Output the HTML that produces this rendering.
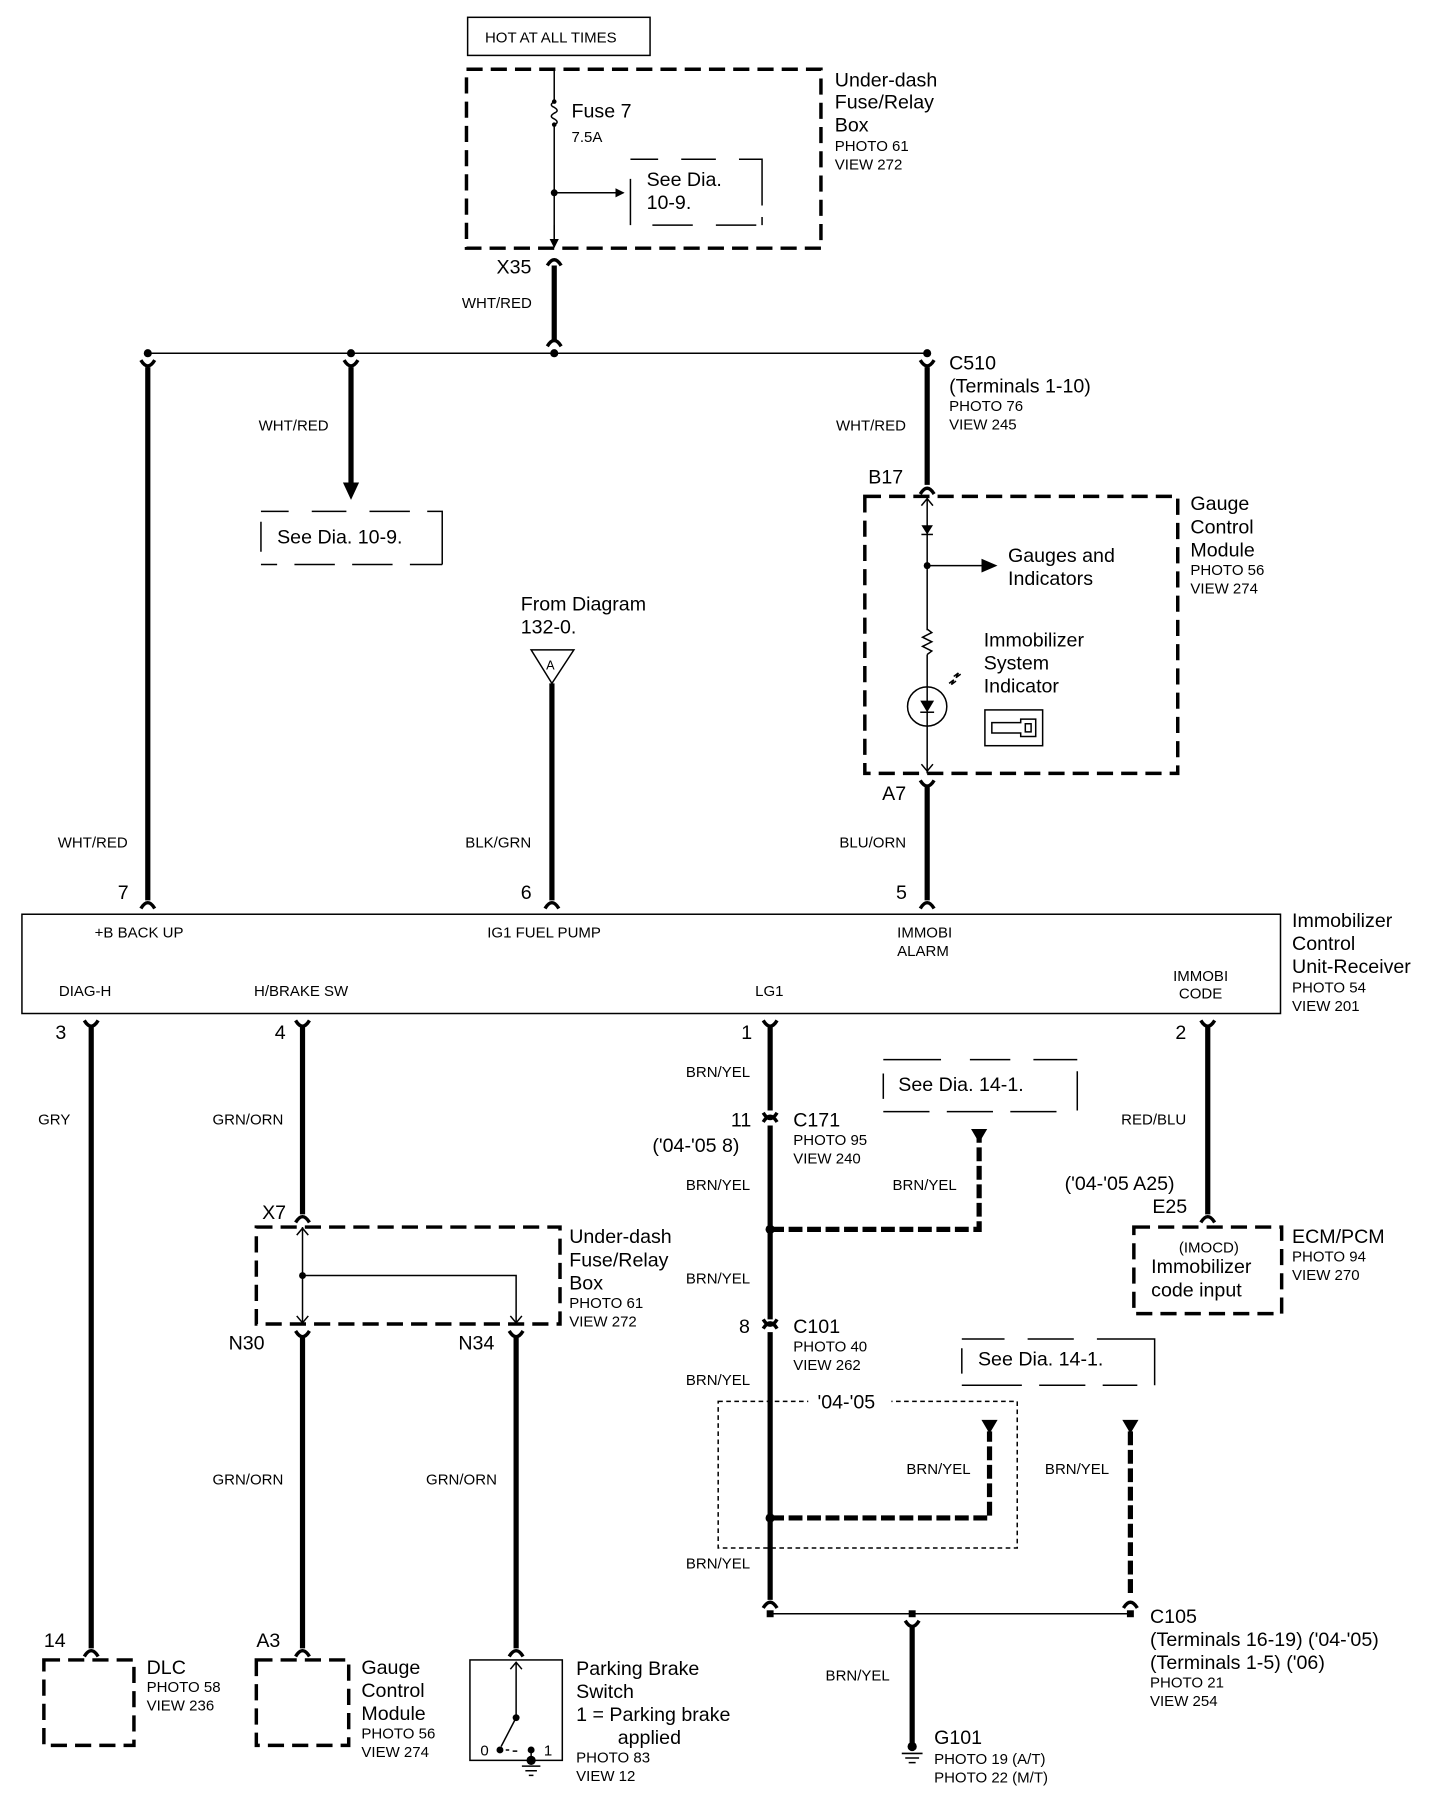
<!DOCTYPE html>
<html><head><meta charset="utf-8"><style>
html,body{margin:0;padding:0;background:#fff}
svg{display:block}
text{font-family:"Liberation Sans",Arial,sans-serif;fill:#000}
.b{font-size:17px}
.s{font-size:13px}
.w{font-size:13px}
.hw{stroke:#000;stroke-width:4.5;fill:none}
.tw{stroke:#000;stroke-width:1.3;fill:none}
.db{stroke:#000;stroke-width:3;fill:none;stroke-dasharray:14 7}
.cn{stroke:#000;stroke-width:3;fill:none}
</style></head><body>
<svg width="1456" height="1810" viewBox="0 0 1261 1568" preserveAspectRatio="none" xmlns="http://www.w3.org/2000/svg">
<defs>
<marker id="ar" markerWidth="8" markerHeight="8" refX="7" refY="4" orient="auto" markerUnits="userSpaceOnUse"><path d="M0,0 L8,4 L0,8z" fill="#000"/></marker>
<marker id="ar2" markerWidth="14" markerHeight="12" refX="12" refY="6" orient="auto" markerUnits="userSpaceOnUse"><path d="M0,0 L14,6 L0,12z" fill="#000"/></marker>
</defs>

<!-- top -->
<rect x="405" y="15" width="158" height="33" class="tw" stroke-width="2"/>
<text x="420" y="37" class="s">HOT AT ALL TIMES</text>
<rect x="404" y="60" width="307" height="155" class="db"/>
<path d="M480,60 V88 M480,108 V210" class="tw"/>
<path d="M480,88 q-5,3 0,5 q5,3 0,5 q-5,3 0,5 q5,3 0,5" class="tw"/>
<circle cx="480" cy="88" r="2"/><circle cx="480" cy="108" r="2"/>
<text x="495" y="102" class="b">Fuse 7</text>
<text x="495" y="123" class="s">7.5A</text>
<circle cx="480" cy="167" r="3"/>
<path d="M480,167 H540" class="tw" marker-end="url(#ar)"/>
<path d="M546,155 V195 M546,138 H570 M590,138 H620 M640,138 H660 V178 M660,188 V195 M565,195 H600 M620,195 H655" class="tw" stroke-width="1.5"/>
<text x="560" y="161" class="b">See Dia.</text>
<text x="560" y="181" class="b">10-9.</text>
<path d="M480,195 V214" class="tw" marker-end="url(#ar)"/>
<text x="723" y="75" class="b">Under-dash</text>
<text x="723" y="94" class="b">Fuse/Relay</text>
<text x="723" y="114" class="b">Box</text>
<text x="723" y="131" class="s">PHOTO 61</text>
<text x="723" y="147" class="s">VIEW 272</text>
<text x="430" y="237" class="b">X35</text>
<path d="M480,230 V296" class="hw"/>
<path d="M474,230 Q480,220 486,230" class="cn"/>
<path d="M474,300 Q480,290 486,300" class="cn"/>
<text x="400" y="267" class="w">WHT/RED</text>

<path d="M128,306 H803" class="tw" stroke-width="1.6"/>
<circle cx="128" cy="306" r="3.5"/><circle cx="304" cy="306" r="3.5"/><circle cx="480" cy="306" r="3.5"/><circle cx="803" cy="306" r="3.5"/>

<!-- x=128 -->
<path d="M122,312 Q128,322 134,312" class="cn"/>
<path d="M128,318 V780" class="hw"/>
<path d="M122,787 Q128,777 134,787" class="cn"/>
<text x="50" y="734" class="w">WHT/RED</text>
<text x="102" y="779" class="b">7</text>

<!-- x=304 -->
<path d="M298,312 Q304,322 310,312" class="cn"/>
<path d="M304,318 V420" class="hw"/>
<path d="M297,418 L304,433 L311,418z" fill="#000"/>
<text x="224" y="373" class="w">WHT/RED</text>
<path d="M226,443 H250 M270,443 H300 M320,443 H355 M370,443 H383 V489 M226,452 V478 M226,489 H240 M255,489 H290 M305,489 H340 M355,489 H383" class="tw" stroke-width="1.5"/>
<text x="240" y="471" class="b">See Dia. 10-9.</text>

<!-- x=803 -->
<path d="M797,312 Q803,322 809,312" class="cn"/>
<path d="M803,318 V420" class="hw"/>
<path d="M797,428 Q803,418 809,428" class="cn"/>
<text x="724" y="373" class="w">WHT/RED</text>
<text x="822" y="320" class="b">C510</text>
<text x="822" y="340" class="b">(Terminals 1-10)</text>
<text x="822" y="356" class="s">PHOTO 76</text>
<text x="822" y="372" class="s">VIEW 245</text>
<text x="752" y="419" class="b">B17</text>
<rect x="749" y="430" width="271" height="240" class="db"/>
<path d="M803,430 V670" class="tw"/>
<path d="M798,438 L803,432 L808,438" class="tw"/>
<path d="M798,455 H808 L803,463z" fill="#000"/>
<path d="M798,463 H808" class="tw"/>
<circle cx="803" cy="490" r="3"/>
<path d="M803,490 H862" class="tw" marker-end="url(#ar2)"/>
<rect x="800" y="546" width="6" height="21" fill="#fff"/>
<path d="M803,545 l4,3 l-8,4 l8,4 l-8,4 l8,4 l-4,3" class="tw"/>
<circle cx="803" cy="612" r="17" class="tw" stroke-width="3"/>
<path d="M797,607 H809 L803,617z" fill="#000"/><path d="M797,617 H809" class="tw"/>
<path d="M822,592 l4,-3 l-2,4 l4,-3 M826,586 l4,-3 l-2,4 l4,-3" class="tw"/>
<path d="M798,662 L803,668 L808,662" class="tw"/>
<rect x="853" y="615" width="50" height="31" class="tw" stroke-width="2"/>
<path d="M859,626 H884 V623 H897 V638 H884 V635 H859z M888,627 h5 v7 h-5z" class="tw"/>
<text x="873" y="487" class="b">Gauges and</text>
<text x="873" y="507" class="b">Indicators</text>
<text x="852" y="560" class="b">Immobilizer</text>
<text x="852" y="580" class="b">System</text>
<text x="852" y="600" class="b">Indicator</text>
<text x="1031" y="442" class="b">Gauge</text>
<text x="1031" y="462" class="b">Control</text>
<text x="1031" y="482" class="b">Module</text>
<text x="1031" y="498" class="s">PHOTO 56</text>
<text x="1031" y="514" class="s">VIEW 274</text>
<text x="764" y="693" class="b">A7</text>
<path d="M797,676 Q803,686 809,676" class="cn"/>
<path d="M803,682 V780" class="hw"/>
<path d="M797,787 Q803,777 809,787" class="cn"/>
<text x="727" y="734" class="w">BLU/ORN</text>
<text x="776" y="779" class="b">5</text>

<!-- x=478 -->
<text x="451" y="529" class="b">From Diagram</text>
<text x="451" y="549" class="b">132-0.</text>
<path d="M460,563 H497 L478,592z" class="tw" stroke-width="1.6"/>
<text x="473" y="580" class="s" style="font-size:11px">A</text>
<path d="M478,592 V780" class="hw"/>
<path d="M472,787 Q478,777 484,787" class="cn"/>
<text x="403" y="734" class="w">BLK/GRN</text>
<text x="451" y="779" class="b">6</text>

<!-- main box -->
<rect x="19" y="792" width="1090" height="86" class="tw" stroke-width="3"/>
<text x="82" y="812" class="s">+B BACK UP</text>
<text x="422" y="812" class="s">IG1 FUEL PUMP</text>
<text x="777" y="812" class="s">IMMOBI</text>
<text x="777" y="828" class="s">ALARM</text>
<text x="51" y="863" class="s">DIAG-H</text>
<text x="220" y="863" class="s">H/BRAKE SW</text>
<text x="654" y="863" class="s">LG1</text>
<text x="1016" y="850" class="s">IMMOBI</text>
<text x="1021" y="865" class="s">CODE</text>
<text x="1119" y="803" class="b">Immobilizer</text>
<text x="1119" y="823" class="b">Control</text>
<text x="1119" y="843" class="b">Unit-Receiver</text>
<text x="1119" y="860" class="s">PHOTO 54</text>
<text x="1119" y="876" class="s">VIEW 201</text>

<!-- x=79 -->
<text x="48" y="900" class="b">3</text>
<path d="M73,884 Q79,894 85,884" class="cn"/>
<path d="M79,890 V1428" class="hw"/>
<path d="M73,1435 Q79,1425 85,1435" class="cn"/>
<text x="33" y="974" class="w">GRY</text>
<text x="38" y="1427" class="b">14</text>
<rect x="38" y="1438" width="78" height="74" class="db"/>
<text x="127" y="1450" class="b">DLC</text>
<text x="127" y="1466" class="s">PHOTO 58</text>
<text x="127" y="1482" class="s">VIEW 236</text>

<!-- x=262 -->
<text x="238" y="900" class="b">4</text>
<path d="M256,884 Q262,894 268,884" class="cn"/>
<path d="M262,890 V1052" class="hw"/>
<path d="M256,1059 Q262,1049 268,1059" class="cn"/>
<text x="184" y="974" class="w">GRN/ORN</text>
<text x="227" y="1056" class="b">X7</text>
<rect x="222" y="1063" width="263" height="84" class="db"/>
<path d="M262,1063 V1147" class="tw"/>
<path d="M257,1070 L262,1064 L267,1070 M257,1140 L262,1146 L267,1140" class="tw"/>
<circle cx="262" cy="1105" r="3"/>
<path d="M262,1105 H447 V1147" class="tw"/>
<path d="M442,1140 L447,1146 L452,1140" class="tw"/>
<text x="493" y="1077" class="b">Under-dash</text>
<text x="493" y="1097" class="b">Fuse/Relay</text>
<text x="493" y="1117" class="b">Box</text>
<text x="493" y="1133" class="s">PHOTO 61</text>
<text x="493" y="1149" class="s">VIEW 272</text>
<text x="198" y="1169" class="b">N30</text>
<text x="397" y="1169" class="b">N34</text>
<path d="M256,1153 Q262,1163 268,1153" class="cn"/>
<path d="M262,1159 V1428" class="hw"/>
<path d="M256,1435 Q262,1425 268,1435" class="cn"/>
<text x="184" y="1286" class="w">GRN/ORN</text>
<text x="222" y="1427" class="b">A3</text>
<rect x="222" y="1438" width="80" height="74" class="db"/>
<text x="313" y="1450" class="b">Gauge</text>
<text x="313" y="1470" class="b">Control</text>
<text x="313" y="1490" class="b">Module</text>
<text x="313" y="1506" class="s">PHOTO 56</text>
<text x="313" y="1522" class="s">VIEW 274</text>

<!-- x=447 -->
<path d="M441,1153 Q447,1163 453,1153" class="cn"/>
<path d="M447,1159 V1428" class="hw"/>
<path d="M441,1435 Q447,1425 453,1435" class="cn"/>
<text x="369" y="1286" class="w">GRN/ORN</text>
<rect x="407" y="1438" width="80" height="87" class="tw" stroke-width="3"/>
<path d="M447,1440 V1488 M442,1446 L447,1440 L452,1446" class="tw"/>
<circle cx="447" cy="1488" r="3"/>
<path d="M447,1488 L434,1513" class="tw" stroke-width="2"/>
<circle cx="433" cy="1516" r="3"/><circle cx="460" cy="1516" r="3"/>
<path d="M438,1516 h3 M444,1517 h4" class="tw" stroke-width="2"/>
<path d="M460,1516 V1527" class="tw"/>
<circle cx="460" cy="1525" r="4"/>
<path d="M452,1530 H468 M455,1534 H465 M458,1538 H462" class="tw"/>
<text x="416" y="1521" class="s">0</text>
<text x="471" y="1521" class="s">1</text>
<text x="499" y="1451" class="b">Parking Brake</text>
<text x="499" y="1471" class="b">Switch</text>
<text x="499" y="1491" class="b">1 = Parking brake</text>
<text x="535" y="1511" class="b">applied</text>
<text x="499" y="1527" class="s">PHOTO 83</text>
<text x="499" y="1543" class="s">VIEW 12</text>

<!-- x=667 -->
<text x="642" y="900" class="b">1</text>
<path d="M661,884 Q667,894 673,884" class="cn"/>
<path d="M667,890 V962" class="hw"/>
<text x="594" y="933" class="w">BRN/YEL</text>
<path d="M661,964 Q667,974 673,964 M661,972 Q667,962 673,972" class="cn"/>
<path d="M667,975 V1143" class="hw"/>
<text x="633" y="976" class="b">11</text>
<text x="565" y="998" class="b">('04-'05 8)</text>
<text x="687" y="976" class="b">C171</text>
<text x="687" y="992" class="s">PHOTO 95</text>
<text x="687" y="1008" class="s">VIEW 240</text>
<text x="594" y="1031" class="w">BRN/YEL</text>
<circle cx="667" cy="1065" r="4"/>
<path d="M667,1065 H848 V985" class="hw" stroke-dasharray="12 4"/>
<path d="M841,978 H855 L848,990z" fill="#000"/>
<text x="773" y="1031" class="w">BRN/YEL</text>
<path d="M765,918 H815 M840,918 H875 M895,918 H933 M765,930 V952 M933,928 V962 M765,963 H805 M820,963 H860 M875,963 H915" class="tw" stroke-width="1.5"/>
<text x="778" y="945" class="b">See Dia. 14-1.</text>
<text x="594" y="1112" class="w">BRN/YEL</text>
<path d="M661,1143 Q667,1153 673,1143 M661,1151 Q667,1141 673,1151" class="cn"/>
<text x="640" y="1155" class="b">8</text>
<text x="687" y="1155" class="b">C101</text>
<text x="687" y="1171" class="s">PHOTO 40</text>
<text x="687" y="1187" class="s">VIEW 262</text>
<path d="M667,1154 V1386" class="hw"/>
<text x="594" y="1200" class="w">BRN/YEL</text>
<rect x="622" y="1214" width="259" height="127" class="tw" stroke-dasharray="4 3" stroke-width="1.3"/>
<rect x="700" y="1206" width="72" height="16" fill="#fff"/>
<text x="708" y="1220" class="b">'04-'05</text>
<circle cx="667" cy="1315" r="4"/>
<path d="M667,1315 H857 V1240" class="hw" stroke-dasharray="12 4"/>
<path d="M850,1230 H864 L857,1242z" fill="#000"/>
<text x="785" y="1277" class="w">BRN/YEL</text>
<path d="M979,1240 V1384" class="hw" stroke-dasharray="12 4"/>
<path d="M972,1230 H986 L979,1242z" fill="#000"/>
<text x="905" y="1277" class="w">BRN/YEL</text>
<path d="M833,1160 H870 M890,1160 H930 M950,1160 H1000 V1200 M833,1168 V1190 M833,1200 H885 M900,1200 H940 M955,1200 H985" class="tw" stroke-width="1.5"/>
<text x="847" y="1183" class="b">See Dia. 14-1.</text>
<text x="594" y="1359" class="w">BRN/YEL</text>
<path d="M661,1393 Q667,1383 673,1393" class="cn"/>
<path d="M973,1393 Q979,1383 985,1393" class="cn"/>
<path d="M667,1398 H979" class="tw" stroke-width="1.6"/>
<rect x="664" y="1395" width="6" height="6"/><rect x="976" y="1395" width="6" height="6"/><rect x="787" y="1395" width="6" height="6"/>
<path d="M784,1404 Q790,1414 796,1404" class="cn"/>
<path d="M790,1410 V1512" class="hw"/>
<circle cx="790" cy="1513" r="4"/>
<path d="M781,1519 H799 M784,1523 H796 M787,1527 H793" class="tw"/>
<text x="715" y="1456" class="w">BRN/YEL</text>
<text x="809" y="1511" class="b">G101</text>
<text x="809" y="1528" class="s">PHOTO 19 (A/T)</text>
<text x="809" y="1544" class="s">PHOTO 22 (M/T)</text>
<text x="996" y="1406" class="b">C105</text>
<text x="996" y="1426" class="b">(Terminals 16-19) ('04-'05)</text>
<text x="996" y="1446" class="b">(Terminals 1-5) ('06)</text>
<text x="996" y="1462" class="s">PHOTO 21</text>
<text x="996" y="1478" class="s">VIEW 254</text>

<!-- x=1046 -->
<text x="1018" y="900" class="b">2</text>
<path d="M1040,884 Q1046,894 1052,884" class="cn"/>
<path d="M1046,890 V1052" class="hw"/>
<path d="M1040,1059 Q1046,1049 1052,1059" class="cn"/>
<text x="971" y="974" class="w">RED/BLU</text>
<text x="922" y="1031" class="b">('04-'05 A25)</text>
<text x="998" y="1051" class="b">E25</text>
<rect x="982" y="1063" width="128" height="75" class="db"/>
<text x="1021" y="1085" class="s">(IMOCD)</text>
<text x="997" y="1103" class="b">Immobilizer</text>
<text x="997" y="1123" class="b">code input</text>
<text x="1119" y="1077" class="b">ECM/PCM</text>
<text x="1119" y="1093" class="s">PHOTO 94</text>
<text x="1119" y="1109" class="s">VIEW 270</text>
</svg>
</body></html>
